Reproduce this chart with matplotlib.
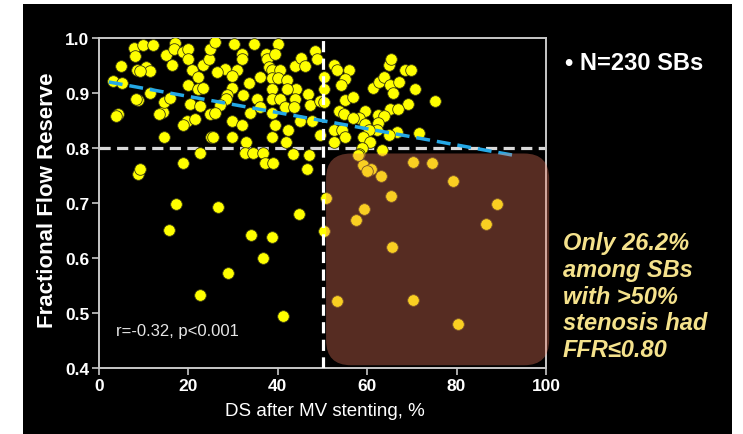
import matplotlib
matplotlib.use("Agg")
import matplotlib.pyplot as plt
from matplotlib.patches import FancyBboxPatch, Rectangle

# ---------------- data ----------------
ds_values = [
    # upper-left cluster
    4.9, 7.8, 8.1, 9.9, 12.0, 15.0, 17.0, 16.8, 16.3, 18.9, 20.0, 20.0, 8.6, 10.5, 11.4, 9.2,
    3.2, 5.1, 8.8, 8.3, 11.4, 4.3, 3.7, 14.5, 14.4, 13.5, 14.5, 15.9, 20.7, 22.2, 23.3, 24.5,
    24.8, 20.0, 22.2, 23.3, 20.4, 22.6, 19.6, 18.9, 21.5, 24.8, 25.1, 22.6, 18.9,
    # middle cluster
    25.9, 30.2, 34.7, 40.1, 48.3, 48.7, 32.1, 31.9, 37.4, 37.5, 39.4, 38.1, 43.8, 45.3, 46.1,
    28.2, 26.3, 30.8, 29.7, 36.0, 38.6, 40.5, 38.6, 40.1, 42.1, 33.6, 29.7, 28.6, 28.4, 32.3,
    38.6, 44.1, 42.1, 46.8, 38.6, 40.5, 35.3, 43.8, 47.2, 49.4, 27.1, 36.0, 41.6, 43.6, 26.0,
    33.8, 38.6, 29.7, 31.9, 39.4, 45.0, 47.6, 42.3, 49.4, 25.4, 29.7, 38.6, 41.8, 32.9, 32.7,
    34.5, 36.8, 43.5, 47.0, 37.1, 39.0, 46.5, 8.8, 9.2,
    # right cluster
    52.5, 53.2, 56.0, 55.0, 54.2, 50.3, 50.3, 50.3, 55.1, 56.8, 53.8, 54.7, 59.4, 58.1, 56.8,
    61.2, 62.6, 63.7, 64.8, 65.4, 65.2, 65.7, 67.1, 68.5, 69.9, 70.8, 69.1, 75.2, 65.2, 66.9,
    62.4, 63.7, 59.4, 62.4, 62.2, 60.3, 52.5, 54.4, 55.0, 59.0, 52.5, 66.7, 64.8, 71.7, 60.7,
    58.8, 63.3, 58.1,
    # low points (left)
    17.2, 26.7, 44.8, 15.7, 34.0, 38.6, 36.8, 28.9, 22.6, 41.1,
    # low points (right, inside shaded box)
    70.3, 74.6, 79.1, 89.1, 86.5, 65.3, 59.3, 57.6, 65.6, 50.8, 50.3, 53.2, 70.2, 80.3,
    63.1, 59.0, 60.9, 59.9, 58.0,
]
ffr_values = [
    0.950, 0.981, 0.968, 0.988, 0.987, 0.969, 0.991, 0.980, 0.951, 0.974, 0.980, 0.962, 0.941, 0.948, 0.940, 0.940,
    0.921, 0.918, 0.888, 0.889, 0.900, 0.862, 0.858, 0.820, 0.866, 0.861, 0.883, 0.891, 0.941, 0.929, 0.951, 0.962,
    0.980, 0.914, 0.908, 0.909, 0.880, 0.877, 0.850, 0.842, 0.853, 0.862, 0.820, 0.791, 0.772,
    0.992, 0.989, 0.989, 0.989, 0.977, 0.962, 0.971, 0.961, 0.971, 0.961, 0.971, 0.947, 0.950, 0.963, 0.950,
    0.944, 0.938, 0.942, 0.931, 0.930, 0.941, 0.941, 0.928, 0.928, 0.923, 0.918, 0.909, 0.897, 0.889, 0.897,
    0.908, 0.908, 0.908, 0.899, 0.889, 0.889, 0.889, 0.889, 0.878, 0.886, 0.878, 0.875, 0.874, 0.874, 0.863,
    0.863, 0.863, 0.850, 0.842, 0.842, 0.850, 0.850, 0.832, 0.823, 0.820, 0.820, 0.820, 0.811, 0.811, 0.791,
    0.791, 0.791, 0.790, 0.788, 0.772, 0.772, 0.761, 0.752, 0.761,
    0.951, 0.941, 0.941, 0.926, 0.914, 0.929, 0.908, 0.883, 0.888, 0.892, 0.868, 0.862, 0.868, 0.854, 0.854,
    0.909, 0.920, 0.929, 0.951, 0.961, 0.915, 0.900, 0.920, 0.941, 0.941, 0.908, 0.880, 0.885, 0.871, 0.871,
    0.860, 0.859, 0.844, 0.846, 0.832, 0.833, 0.832, 0.832, 0.820, 0.820, 0.811, 0.830, 0.823, 0.828, 0.810,
    0.800, 0.797, 0.790,
    0.699, 0.692, 0.680, 0.651, 0.641, 0.639, 0.600, 0.572, 0.532, 0.494,
    0.775, 0.772, 0.740, 0.699, 0.661, 0.713, 0.689, 0.670, 0.620, 0.710, 0.650, 0.521, 0.524, 0.480,
    0.750, 0.770, 0.762, 0.758, 0.788,
]

fit_x = [2.2, 92.6]
fit_y = [0.920, 0.787]

x_ticks = [0, 20, 40, 60, 80, 100]
y_ticks = [0.4, 0.5, 0.6, 0.7, 0.8, 0.9, 1.0]
y_tick_labels = ["0.4", "0.5", "0.6", "0.7", "0.8", "0.9", "1.0"]

ds_cut = 50
ffr_cut = 0.80
box_x = [50.8, 100.7]
box_y = [0.405, 0.790]

# ---------------- figure ----------------
W, H = 743, 435
fig = plt.figure(figsize=(W / 100, H / 100), dpi=100, facecolor="white")
fig.patches.append(Rectangle((23 / W, 0), (732 - 23) / W, (435 - 5) / H,
                             transform=fig.transFigure, facecolor="black",
                             edgecolor="none", zorder=-10))

arial = ["Liberation Sans", "DejaVu Sans"]

ax = fig.add_axes([99 / W, 1 - 369 / H, (546 - 99) / W, (369 - 39) / H], zorder=1)
ax.set_facecolor("black")
ax.set_xlim(0, 100)
ax.set_ylim(0.4, 1.0)

spine_c = "#c8c8c8"
for s in ax.spines.values():
    s.set_color(spine_c)
    s.set_linewidth(1.4)

ax.set_xticks(x_ticks)
ax.set_yticks(y_ticks)
ax.set_xticklabels([str(t) for t in x_ticks])
ax.set_yticklabels(y_tick_labels)
ax.tick_params(axis="both", colors=spine_c, length=5, width=1.2, direction="out", pad=2)
for lab in ax.get_xticklabels() + ax.get_yticklabels():
    lab.set_color("white")
    lab.set_fontfamily(arial)
    lab.set_fontweight("bold")
    lab.set_fontsize(12.5)

# reference lines
ax.axhline(ffr_cut, color="#d9d9d9", lw=2.3, ls=(0, (3.5, 2.0)), zorder=2)
ax.axvline(ds_cut, color="white", lw=2.3, ls=(0, (3.5, 2.0)), zorder=5)

# points
ax.scatter(ds_values, ffr_values, s=70, c="#ffff00", edgecolors="#3a3a10",
           linewidths=0.6, zorder=3)

# regression line
ax.plot(fit_x, fit_y, color="#25a8e6", lw=2.5, ls=(0, (4, 2)), zorder=6)

# shaded rounded box (corner rounding equal in pixels on both axes)
box = FancyBboxPatch((box_x[0], box_y[0]), box_x[1] - box_x[0], box_y[1] - box_y[0],
                     boxstyle="round,pad=0,rounding_size=5.6",
                     mutation_aspect=0.6 / 100 * 447 / 330,
                     facecolor="#f07c60", edgecolor="none", alpha=0.36,
                     zorder=7, clip_on=False)
ax.add_patch(box)

ax.text(3.8, 0.469, "r=-0.32, p<0.001", color="#e6e6e6", fontsize=12,
        family=arial, va="center", ha="left", zorder=8)

# labels
fig.text(48 / W, 1 - 200 / H, "Fractional Flow Reserve", rotation=90, color="white",
         fontsize=16, fontweight="bold", family=arial, ha="center", va="center")
fig.text(325 / W, 1 - 412 / H, "DS after MV stenting, %", color="white",
         fontsize=13.5, family=arial, ha="center", va="center")

fig.text(565 / W, 1 - 64 / H, "\u2022 N=230 SBs", color="white", fontsize=17,
         fontweight="bold", family=arial, ha="left", va="center")

fig.text(563 / W, 1 - 297 / H,
         "Only 26.2%\namong SBs\nwith >50%\nstenosis had\nFFR\u22640.80",
         color="#f5e28c", fontsize=17, fontweight="bold", fontstyle="italic",
         family=arial, ha="left", va="center", linespacing=1.22)

fig.savefig("out.png", dpi=100, facecolor=fig.get_facecolor())
